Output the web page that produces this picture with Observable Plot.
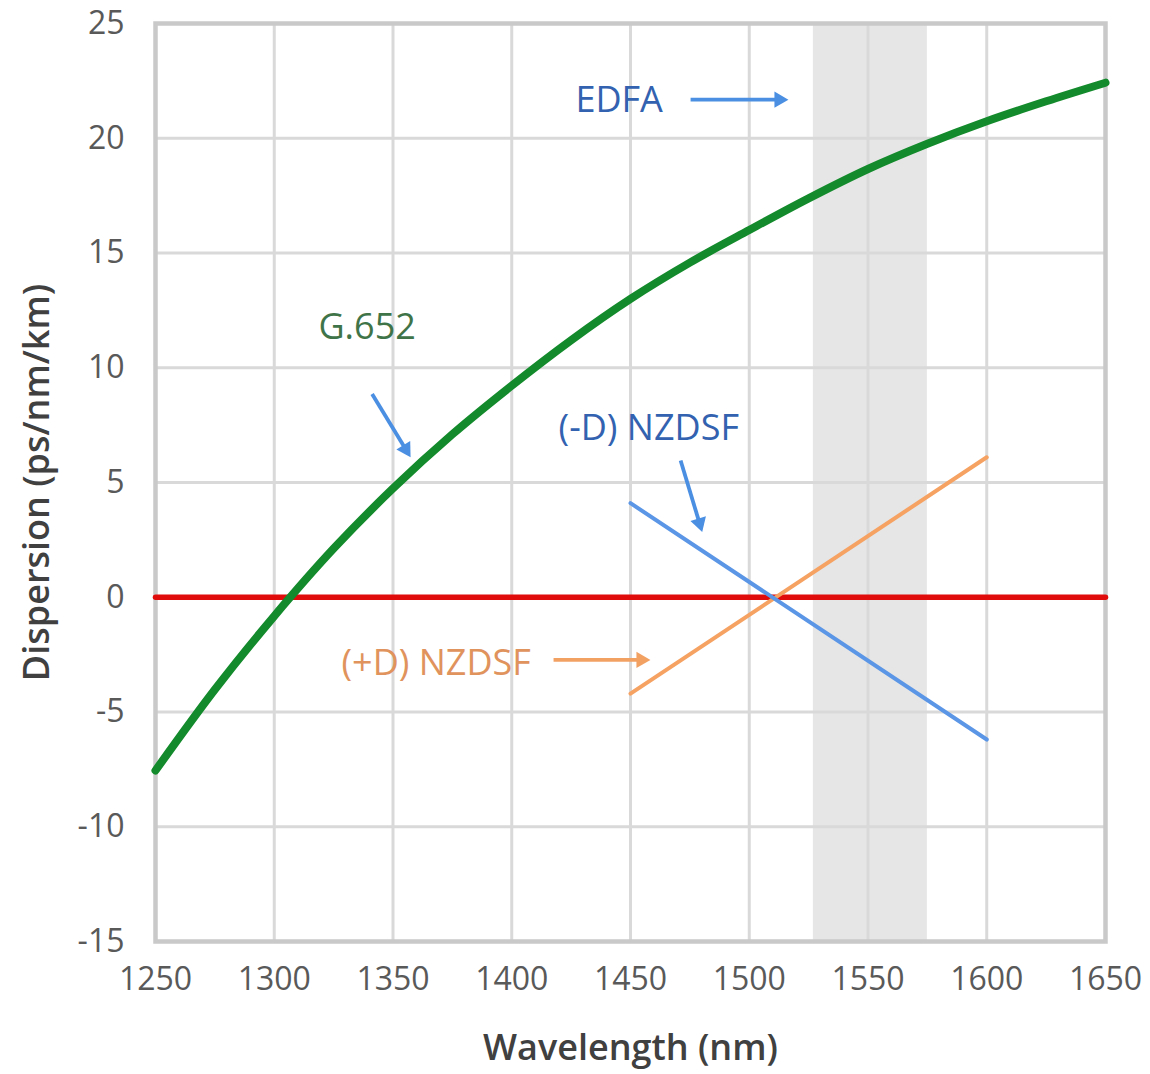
<!DOCTYPE html>
<html>
<head>
<meta charset="utf-8">
<script src="https://cdn.jsdelivr.net/npm/d3@7"></script>
<script src="https://cdn.jsdelivr.net/npm/@observablehq/plot@0.6"></script>
<style>
  html, body { margin: 0; padding: 0; background: #ffffff; }
  #chart svg { display: block; }
</style>
</head>
<body>
<div id="chart"></div>
<script>
// ---- data ----
const wavelengths = [1250, 1275, 1300, 1325, 1350, 1375, 1400, 1425, 1450, 1475, 1500, 1525, 1550, 1575, 1600, 1625, 1650];
const g652 = [-7.55, -4.02, -0.82, 2.12, 4.74, 7.1, 9.22, 11.2, 13.0, 14.58, 16.0, 17.38, 18.66, 19.76, 20.74, 21.61, 22.42];

const nzdsfX = [1450, 1600];
const negNzdsf = [4.1, -6.2];
const posNzdsf = [-4.2, 6.1];

const zeroX = [1250, 1650];
const zeroY = [0, 0];

const edfaBand = [1527, 1575];

const xTicks = [1250, 1300, 1350, 1400, 1450, 1500, 1550, 1600, 1650];
const yTicks = [-15, -10, -5, 0, 5, 10, 15, 20, 25];

const labelText = ["EDFA", "G.652", "(-D) NZDSF", "(+D) NZDSF"];
const labelX = [1426.8, 1318.6, 1419.7, 1328.3];
const labelY = [21.64, 11.75, 7.37, -2.89];
const labelColor = ["#3262b0", "#3f7449", "#3262b0", "#e0935c"];

const arrowX1 = [1475.3, 1341.2, 1471.1, 1417.6];
const arrowY1 = [21.68, 8.86, 5.96, -2.73];
const arrowX2 = [1516.5, 1357.4, 1480.2, 1458.4];
const arrowY2 = [21.68, 6.10, 2.84, -2.73];
const arrowColor = ["#4a8fe2", "#4a8fe2", "#4a8fe2", "#f2a163"];

// ---- layout ----
const W = 1150, H = 1074, ML = 155, MR = 45, MT = 23, MB = 133;
const xDomain = [1250, 1650], yDomain = [-15, 25];

const g652Data = wavelengths.map((x, i) => ({x, y: g652[i]}));
const negData = nzdsfX.map((x, i) => ({x, y: negNzdsf[i]}));
const posData = nzdsfX.map((x, i) => ({x, y: posNzdsf[i]}));
const zeroData = zeroX.map((x, i) => ({x, y: zeroY[i]}));
const bandData = [{x1: edfaBand[0], x2: edfaBand[1]}];
const labels = labelText.map((t, i) => ({t, x: labelX[i], y: labelY[i], c: labelColor[i]}));

// arrow heads: triangle symbol rotated along the arrow direction
const kx = (W - ML - MR) / (xDomain[1] - xDomain[0]);
const ky = (H - MT - MB) / (yDomain[1] - yDomain[0]);
const headR = 6;
const tipDist = 2 * Math.sqrt(headR * headR * Math.PI / (3 * Math.sqrt(3)));
const arrows = arrowX1.map((x1, i) => {
  const x2 = arrowX2[i], y1 = arrowY1[i], y2 = arrowY2[i];
  const px = (x2 - x1) * kx, py = -(y2 - y1) * ky;
  const L = Math.hypot(px, py);
  const ux = px / L, uy = py / L;
  return {
    x1, y1,
    hx: x2 - ux * tipDist / kx,
    hy: y2 + uy * tipDist / ky,
    angle: Math.atan2(ux, -uy) * 180 / Math.PI,
    color: arrowColor[i]
  };
});

const arrowMarks = arrows.flatMap(a => [
  Plot.link([a], {x1: "x1", y1: "y1", x2: "hx", y2: "hy", stroke: a.color, strokeWidth: 3.8}),
  Plot.dot([a], {x: "hx", y: "hy", symbol: "triangle", r: headR, fill: a.color, stroke: "none", rotate: a.angle})
]);

const labelMarks = labels.map(l =>
  Plot.text([l], {x: "x", y: "y", text: "t", fill: l.c, fontSize: 36, textAnchor: "start", lineAnchor: "middle"})
);

const chart = Plot.plot({
  width: W,
  height: H,
  marginLeft: ML,
  marginRight: MR,
  marginTop: MT,
  marginBottom: MB,
  style: {fontFamily: "'Open Sans', 'Noto Sans', sans-serif", fontSize: "32px", color: "#595959", background: "#ffffff"},
  x: {domain: xDomain, label: null},
  y: {domain: yDomain, label: null},
  marks: [
    Plot.rect(bandData, {x1: "x1", x2: "x2", fill: "#e6e6e6"}),
    Plot.gridX(xTicks, {stroke: "#d9d9d9", strokeOpacity: 1, strokeWidth: 3}),
    Plot.gridY(yTicks, {stroke: "#d9d9d9", strokeOpacity: 1, strokeWidth: 3}),
    Plot.frame({stroke: "#c9c9c9", strokeWidth: 4.5}),
    Plot.axisX({ticks: xTicks, tickSize: 0, tickPadding: 26, tickFormat: d => String(d), fontSize: 32, label: null}),
    Plot.axisY({ticks: yTicks, tickSize: 0, tickPadding: 31, tickFormat: d => String(d), fontSize: 32, label: null}),
    Plot.line(zeroData, {x: "x", y: "y", stroke: "#e00b0b", strokeWidth: 5.5}),
    Plot.line(posData, {x: "x", y: "y", stroke: "#f5a263", strokeWidth: 4}),
    Plot.line(negData, {x: "x", y: "y", stroke: "#5b96e6", strokeWidth: 4}),
    Plot.line(g652Data, {x: "x", y: "y", stroke: "#138a2b", strokeWidth: 8, curve: "catmull-rom"}),
    ...arrowMarks,
    ...labelMarks,
    Plot.text(["Wavelength (nm)"], {text: d => d, frameAnchor: "bottom", dy: 107, textAnchor: "middle", lineAnchor: "middle", fontSize: 36, fontWeight: 600, fill: "#404040"}),
    Plot.text(["Dispersion (ps/nm/km)"], {text: d => d, frameAnchor: "left", dx: -118, rotate: -90, textAnchor: "middle", lineAnchor: "middle", fontSize: 36, fontWeight: 600, fill: "#404040"})
  ]
});

document.getElementById("chart").appendChild(chart);
</script>
</body>
</html>
